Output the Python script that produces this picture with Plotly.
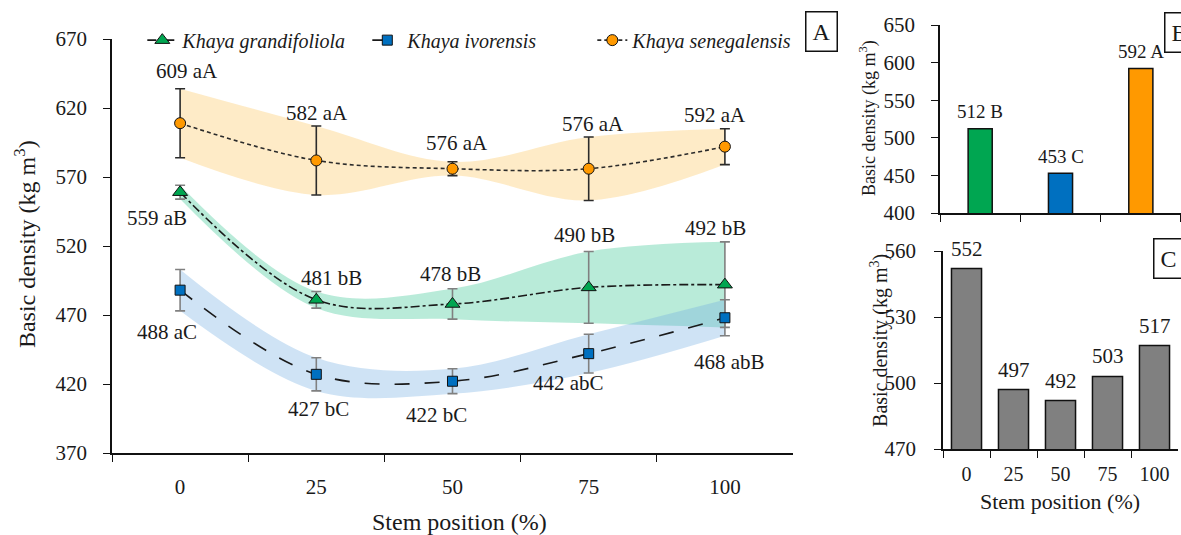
import plotly.graph_objects as go

# ---- data -------------------------------------------------------------
positions = ["0", "25", "50", "75", "100"]

grandifoliola = [559, 481, 478, 490, 492]
grandifoliola_sd = [5, 6, 11, 26, 31]
grandifoliola_letters = ["aB", "bB", "bB", "bB", "bB"]

ivorensis = [488, 427, 422, 442, 468]
ivorensis_sd = [15, 12, 9, 14, 13]
ivorensis_letters = ["aC", "bC", "bC", "abC", "abB"]

senegalensis = [609, 582, 576, 576, 592]
senegalensis_sd = [25, 25, 5, 23, 13]
senegalensis_letters = ["aA", "aA", "aA", "aA", "aA"]

species_names = ["Khaya grandifoliola", "Khaya ivorensis", "Khaya senegalensis"]
species_means = [512, 453, 592]
species_letters = ["B", "C", "A"]

position_means = [552, 497, 492, 503, 517]

# ---- styling ----------------------------------------------------------
FONT = "Liberation Serif"
INK = "#1a1a1a"
GREEN, BLUE, ORANGE, GREY = "#00A651", "#0070C0", "#FF9900", "#808080"

# label offsets (px) around each point of panel A
grand_shift = [(-23, -26), (15, 22), (-2, 30), (-4, 52), (-9, 57)]
ivor_shift = [(-13, -42), (2, -35), (-16, -34), (-20, -29), (5, -44)]
sene_shift = [(7, 52), (1, 47), (5, 26), (4, 45), (-10, 32)]

fig = go.Figure()

series = [
    ("Khaya grandifoliola", grandifoliola, grandifoliola_sd, GREEN,
     "rgba(60,200,150,0.36)", "triangle-up", 13, "dashdot", INK, GREY),
    ("Khaya ivorensis", ivorensis, ivorensis_sd, BLUE,
     "rgba(110,170,225,0.33)", "square", 10, "longdash", INK, GREY),
    ("Khaya senegalensis", senegalensis, senegalensis_sd, ORANGE,
     "rgba(252,200,100,0.36)", "circle", 11, "4px,3px", "#2b2b2b", "#2b2b2b"),
]

# shaded mean ± sd bands
for name, mean, sd, col, band, sym, size, dash, lcol, ecol in series:
    lo = [m - s for m, s in zip(mean, sd)]
    hi = [m + s for m, s in zip(mean, sd)]
    fig.add_trace(go.Scatter(x=positions, y=lo, mode="lines",
                             line=dict(width=0, shape="spline"),
                             showlegend=False, hoverinfo="skip",
                             xaxis="x", yaxis="y"))
    fig.add_trace(go.Scatter(x=positions, y=hi, mode="lines", fill="tonexty",
                             fillcolor=band, line=dict(width=0, shape="spline"),
                             showlegend=False, hoverinfo="skip",
                             xaxis="x", yaxis="y"))

# mean lines with error bars
for name, mean, sd, col, band, sym, size, dash, lcol, ecol in series:
    fig.add_trace(go.Scatter(
        x=positions, y=mean, name=name, mode="lines+markers",
        line=dict(color=lcol, width=1.6, dash=dash, shape="spline"),
        marker=dict(symbol=sym, size=size, color=col,
                    line=dict(color="#111", width=1)),
        error_y=dict(type="data", array=sd, color=ecol, thickness=1.6, width=5),
        xaxis="x", yaxis="y"))

# panel B: species means
fig.add_trace(go.Bar(x=species_names, y=species_means,
                     marker=dict(color=[GREEN, BLUE, ORANGE],
                                 line=dict(color="#111", width=1.5)),
                     width=0.3, showlegend=False, xaxis="x2", yaxis="y2"))

# panel C: stem position means
fig.add_trace(go.Bar(x=positions, y=position_means,
                     marker=dict(color=GREY, line=dict(color="#111", width=1.5)),
                     width=0.64, showlegend=False, xaxis="x3", yaxis="y3"))


def label(x, y, text, size, xref="paper", yref="paper", **kw):
    d = dict(x=x, y=y, xref=xref, yref=yref, text=text, showarrow=False,
             xanchor="center", yanchor="middle",
             font=dict(size=size, color=INK, family=FONT))
    d.update(kw)
    return d


annotations = []
for mean, letters, shifts in [(grandifoliola, grandifoliola_letters, grand_shift),
                              (ivorensis, ivorensis_letters, ivor_shift),
                              (senegalensis, senegalensis_letters, sene_shift)]:
    for i, (v, l, (dx, dy)) in enumerate(zip(mean, letters, shifts)):
        annotations.append(label(i, v, f"{v} {l}", 21, "x", "y",
                                 xshift=dx, yshift=dy))

for i, (v, l) in enumerate(zip(species_means, species_letters)):
    annotations.append(label(i, v, f"{v} {l}", 19, "x2", "y2", yshift=17))

for i, v in enumerate(position_means):
    annotations.append(label(i, v, f"{v}", 21, "x3", "y3", yshift=20))

ytitle = "Basic density (kg m<sup>3</sup>)"
annotations += [
    label(0.3895, 0.0243, "Stem position (%)", 24),
    label(0.0212, 0.5439, ytitle, 24, textangle=-90),
    label(0.735, 0.7794, ytitle, 18, textangle=-90),
    label(0.7451, 0.3645, ytitle, 20, textangle=-90),
    label(0.8975, 0.0617, "Stem position (%)", 22),
]

# panel tags
for tag, x, y in [("A", 0.6952, 0.942), ("B", 0.9985, 0.939), ("C", 0.9898, 0.5159)]:
    annotations.append(label(x, y, tag, 24, bordercolor="#111", borderwidth=1.5,
                             borderpad=6, bgcolor="white"))

axis_common = dict(showgrid=False, zeroline=False, showline=True,
                   linecolor="#111", linewidth=1.5, tickcolor="#111",
                   tickwidth=1.3, ticks="outside", ticklen=7,
                   tickfont=dict(size=21, color=INK, family=FONT))
minor_common = dict(showgrid=False, zeroline=False, showline=False,
                    ticks="inside", ticklen=7, tickcolor="#111", tickwidth=1.3,
                    showticklabels=False)

fig.update_layout(
    width=1181, height=535,
    margin=dict(l=0, r=0, t=0, b=0, autoexpand=False),
    paper_bgcolor="white", plot_bgcolor="rgba(0,0,0,0)",
    font=dict(family=FONT, color=INK),
    showlegend=True,
    legend=dict(orientation="h", x=0.1205, y=0.925, xanchor="left", yanchor="middle",
                entrywidth=180, entrywidthmode="pixels",
                font=dict(size=20, style="italic", color=INK, family=FONT),
                bgcolor="rgba(0,0,0,0)", traceorder="normal"),
    xaxis=dict(axis_common, domain=[0.09484, 0.67146], type="category",
               range=[-0.5, 4.5], tickson="boundaries", anchor="y",
               ticklabelstandoff=14),
    yaxis=dict(axis_common, domain=[0.15327, 0.92710], range=[370, 670],
               tick0=370, dtick=50, anchor="x", ticklabelstandoff=12),
    yaxis4=dict(minor_common, overlaying="y", anchor="x", range=[370, 670],
                tick0=370, dtick=10),
    xaxis2=dict(axis_common, domain=[0.79594, 1.0], type="category",
                range=[-0.5, 2.5], tickson="boundaries", showticklabels=False,
                anchor="y2"),
    yaxis2=dict(axis_common, domain=[0.60187, 0.95327], range=[400, 650],
                tick0=400, dtick=50, anchor="x2", ticklabelstandoff=12),
    yaxis5=dict(minor_common, overlaying="y2", anchor="x2", range=[400, 650],
                tick0=400, dtick=10),
    xaxis3=dict(axis_common, domain=[0.79848, 0.99746], type="category",
                range=[-0.5, 4.5], tickson="boundaries", anchor="y3",
                ticklabelstandoff=6, tickfont=dict(size=20, color=INK, family=FONT)),
    yaxis3=dict(axis_common, domain=[0.16075, 0.53084], range=[470, 560],
                tick0=470, dtick=30, anchor="x3", ticklabelstandoff=14),
    yaxis6=dict(minor_common, overlaying="y3", anchor="x3", range=[470, 560],
                tick0=470, dtick=6),
    annotations=annotations,
)

fig.write_html("out.html")
